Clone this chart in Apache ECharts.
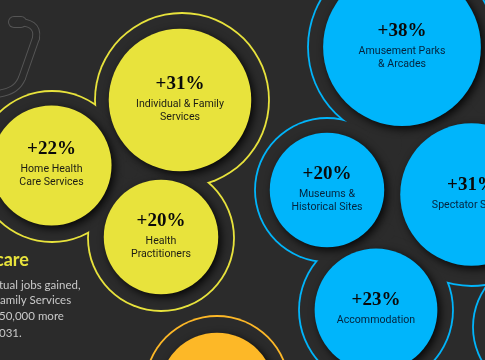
<!DOCTYPE html>
<html>
<head>
<meta charset="utf-8">
<style>html,body{margin:0;padding:0;background:#2b2b2b}#c{width:485px;height:360px}</style>
<script src="https://cdn.jsdelivr.net/npm/echarts@6/dist/echarts.min.js"></script>
</head>
<body>
<div id="c"></div>
<script>
// Bubbles: area encodes projected job growth (%)
const categories = ['Individual & Family\nServices','Home Health\nCare Services','Health\nPractitioners','Amusement Parks\n& Arcades','Museums &\nHistorical Sites','Spectator Sports','Accommodation',''];
const growth = [31,22,20,38,20,31,23,20];
const sector = ['health','health','health','leisure','leisure','leisure','leisure','other'];
const bubbleX = [180,51.5,161,402,327,471.5,376,217];
const bubbleY = [100,165.5,237,47,190,194.5,310,390];
// Outline contours around each sector cluster
const ringX = [182,52,161,402,327,471.5,376,542,217];
const ringY = [100,166.5,238,47,190,194.5,310,327,388];
const ringR = [87,75.5,73,94,72,91.5,77,69,72];
const ringSector = ['health','health','health','leisure','leisure','leisure','leisure','leisure','other'];
// Gaps enclosed between rings, kept free of outline
const gapX = [129,384,386,485];
const gapY = [170,144,232,100];
const gapR = [9,18,9,14];

const palette = {health:'#e8e33c', leisure:'#00b5fb', other:'#fdb827'};
const inkOf = {health:'#1c1c14', leisure:'#04233d', other:'#1c1c14'};
const bg = '#2b2b2b';
const areaK = 12.8;
const ringLine = 1.8;

const bubbles = categories.map((c,i)=>({
  name:c,
  value:[bubbleX[i],bubbleY[i],growth[i]],
  itemStyle:{color:palette[sector[i]],opacity:1},
  label:{
    show:c!=='',
    rich:{
      v:{fontFamily:'Liberation Serif',fontWeight:'bold',fontSize:19,lineHeight:27,color:'#0a0a0a',align:'center'},
      n:{fontFamily:'Roboto',fontSize:10.6,lineHeight:13,color:inkOf[sector[i]],align:'center'}
    }
  }
}));
const ringData = ringX.map((x,i)=>({value:[x,ringY[i],ringR[i]],itemStyle:{color:palette[ringSector[i]],opacity:1}}));
const coverData = ringX.map((x,i)=>({value:[x,ringY[i],ringR[i]-ringLine/2]}))
  .concat(gapX.map((x,i)=>({value:[x,gapY[i],gapR[i]]})));

const chart = echarts.init(document.getElementById('c'),null,{renderer:'canvas',width:485,height:360});
const noEmphasis = {disabled:true};
const base = {type:'scatter',symbol:'circle',silent:true,emphasis:noEmphasis,animation:false,clip:false};
const tube = (w,color)=>{
  const style={fill:'none',stroke:color,lineWidth:w,lineCap:'round'};
  return [
    {type:'line',z:0,silent:true,shape:{x1:14,y1:22,x2:21,y2:22},style:Object.assign({},style,{lineWidth:w+4})},
    {type:'bezierCurve',z:0,silent:true,shape:{x1:16,y1:22,cpx1:30,cpy1:22,cpx2:38,cpy2:26,x2:36,y2:38},style},
    {type:'line',z:0,silent:true,shape:{x1:36,y1:38,x2:22,y2:78},style},
    {type:'bezierCurve',z:0,silent:true,shape:{x1:22,y1:78,cpx1:18,cpy1:88,cpx2:10,cpy2:93,x2:-5,y2:94},style}
  ];
};
const note = (text,x,y,style)=>({type:'text',z:1,silent:true,x,y,style:Object.assign({text,fill:'#c9c9c9',font:'11.5px Lato',verticalAlign:'middle'},style||{})});
chart.setOption({
  backgroundColor:bg,
  animation:false,
  grid:{left:0,right:0,top:0,bottom:0},
  xAxis:{type:'value',min:0,max:485,show:false},
  yAxis:{type:'value',min:0,max:360,inverse:true,show:false},
  graphic:{elements:[].concat(tube(8,'#555555'),tube(6,bg),[
    note('care',-5,260,{fill:'#e8e33c',font:'bold 18px Lato'}),
    note('tual jobs gained,',-1,285),
    note('amily Services',0,300.5),
    note('50,000 more',-1,316.5),
    note('031.',-1,333)
  ])},
  series:[
    Object.assign({},base,{z:2,data:ringData,symbolSize:d=>2*d[2]+ringLine}),
    Object.assign({},base,{z:3,data:coverData,itemStyle:{color:bg,opacity:1},symbolSize:d=>2*d[2]}),
    Object.assign({},base,{z:4,data:bubbles,
      symbolSize:d=>2*areaK*Math.sqrt(d[2]),
      itemStyle:{opacity:1,shadowColor:'rgba(0,0,0,0.85)',shadowBlur:9,shadowOffsetX:3,shadowOffsetY:3},
      label:{show:true,position:'inside',offset:[0,-3],
        formatter:p=>{const g=p.data.value[2];return '{v|+'+g+'%}\n'+p.name.split('\n').map(s=>'{n|'+s+'}').join('\n');}}
    })
  ]
});
</script>
</body>
</html>
